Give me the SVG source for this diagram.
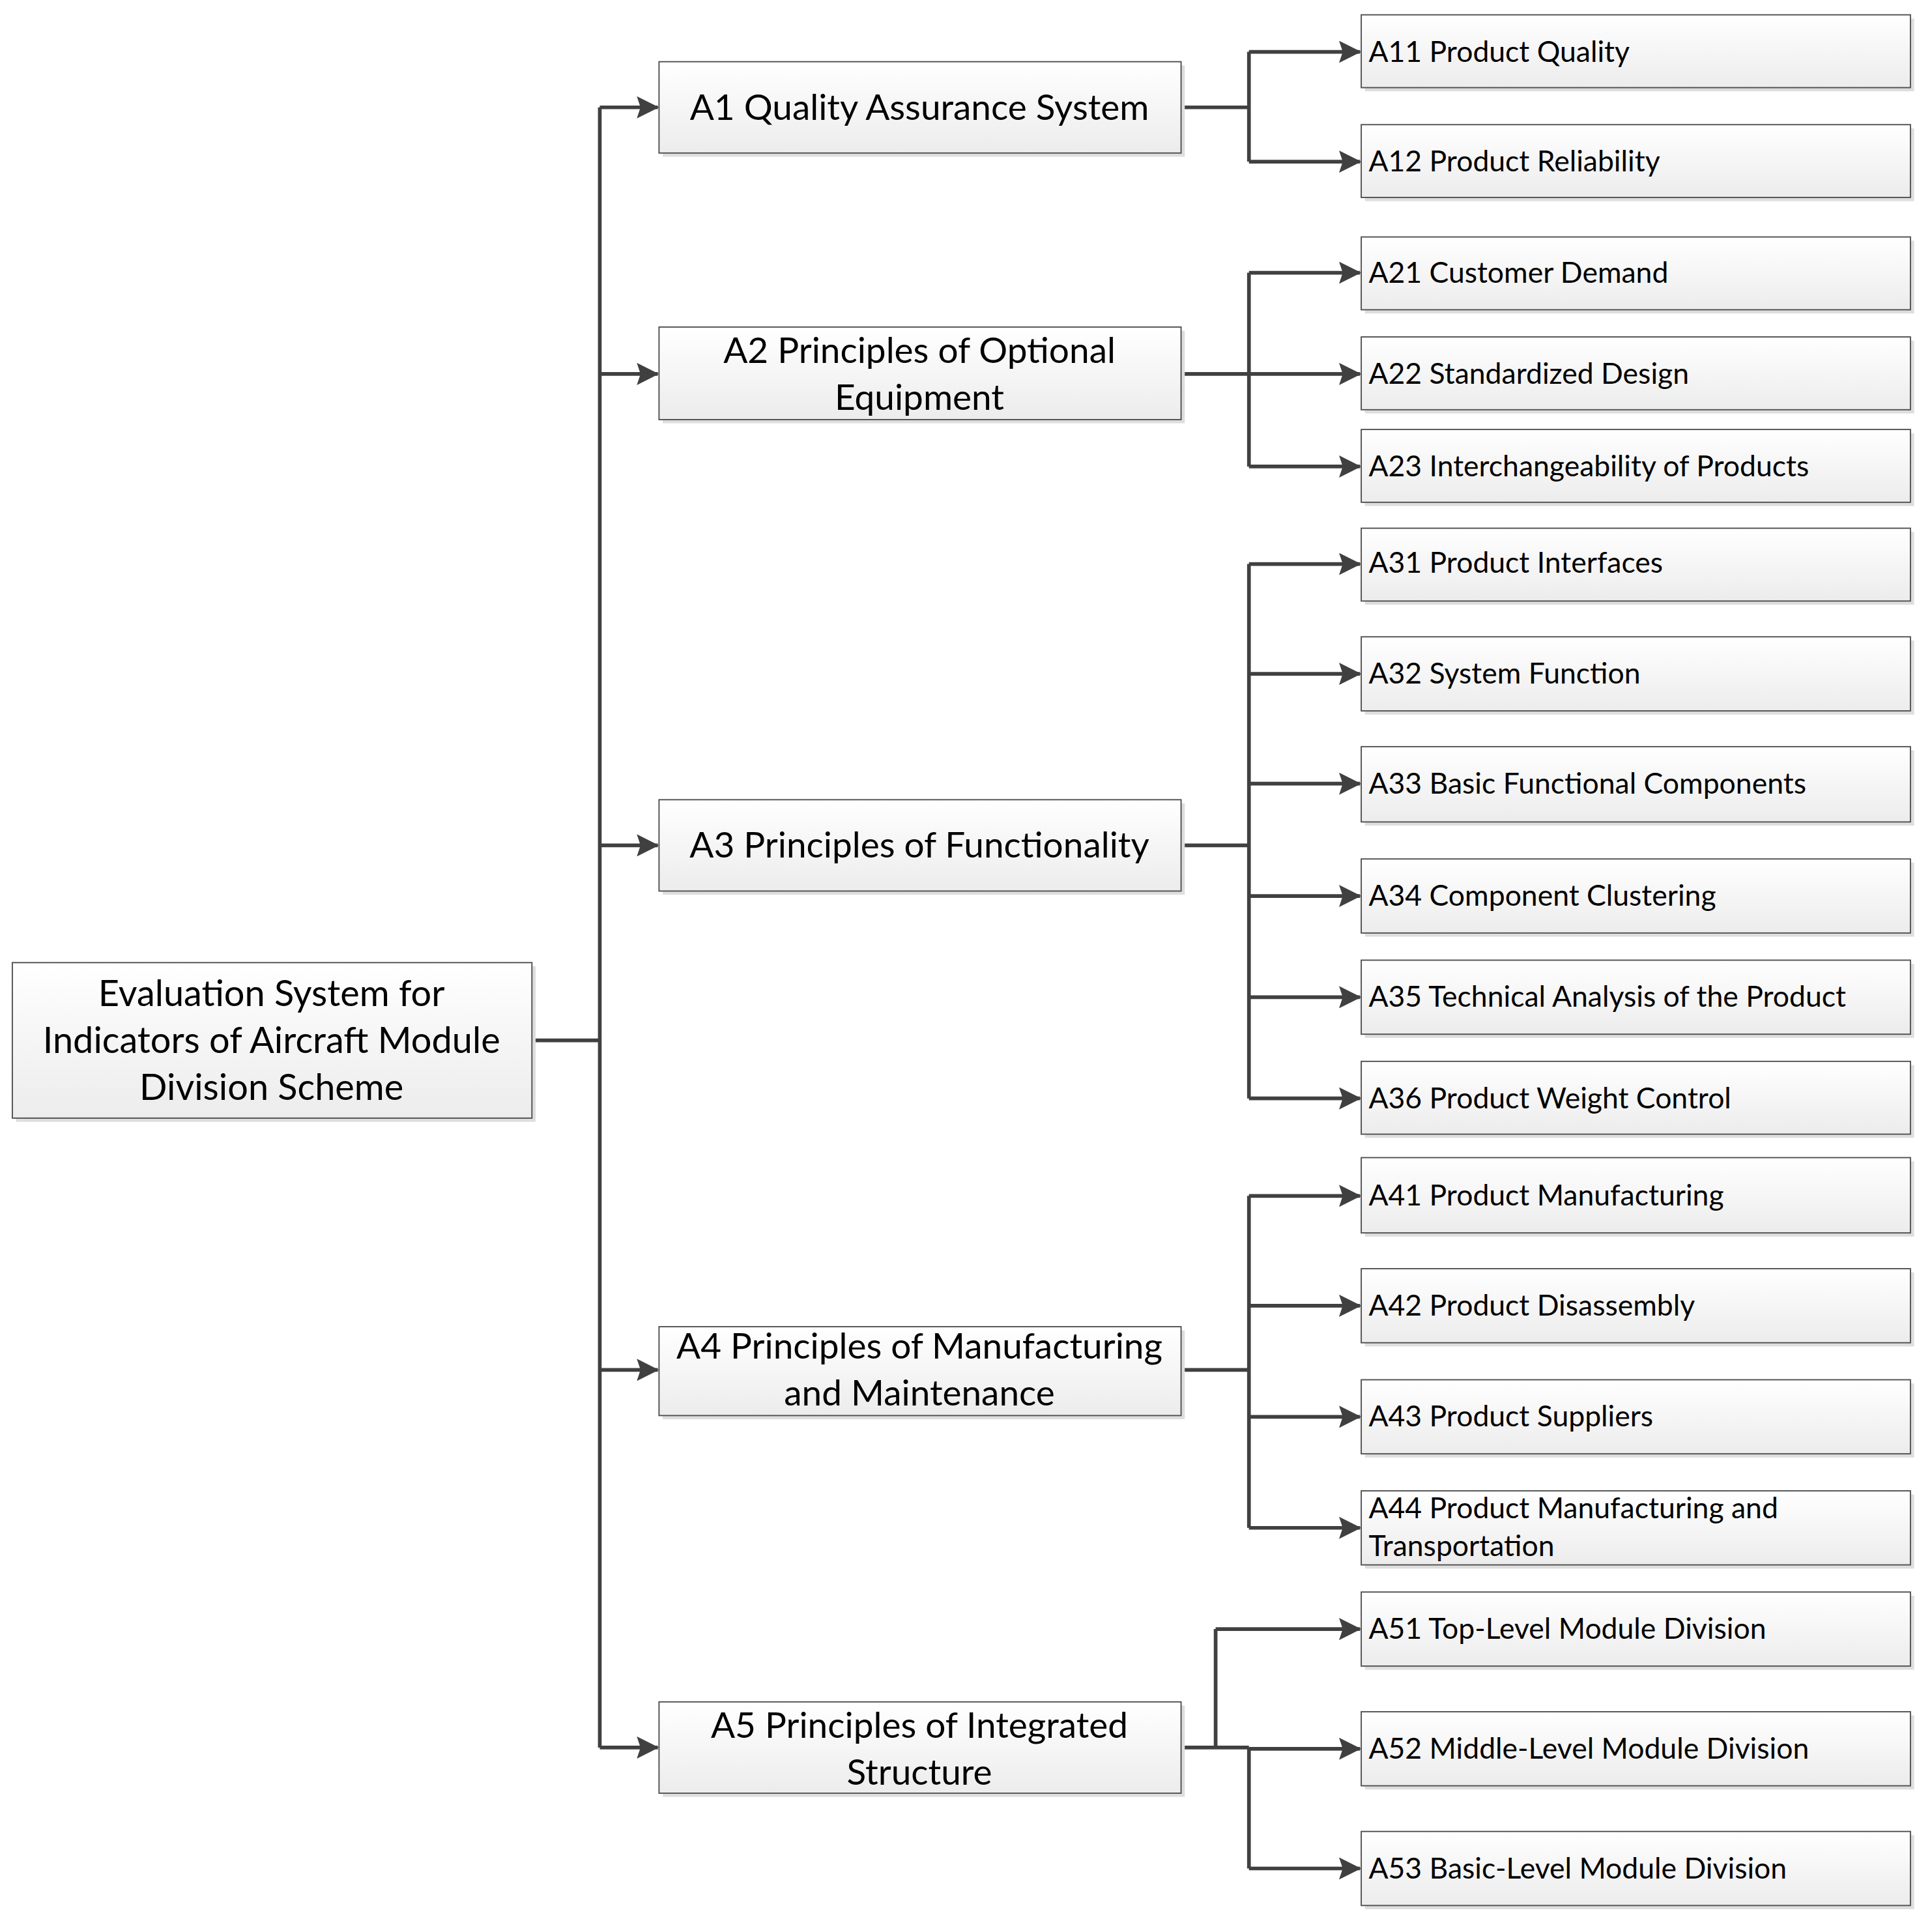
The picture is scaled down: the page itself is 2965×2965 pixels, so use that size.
<svg xmlns="http://www.w3.org/2000/svg" width="2965" height="2965" viewBox="0 0 2965 2965">
<defs>
<linearGradient id="g" x1="0" y1="0" x2="0" y2="1"><stop offset="0" stop-color="#ffffff"/><stop offset="1" stop-color="#ececec"/></linearGradient>
<marker id="ar" markerUnits="userSpaceOnUse" markerWidth="18" markerHeight="18" refX="17" refY="9" orient="auto" viewBox="0 0 18 18"><path d="M0,0 L18,9 L0,18 L3,9 Z" fill="#404040"/></marker>
<style>
.sh{fill:#dedede}
.bx{fill:url(#g);stroke:#505050;stroke-width:1}
.t{font-family:Lato,"Open Sans",sans-serif;fill:#000}
.m{font-size:29px;text-anchor:middle}
.r{font-size:29.5px;text-anchor:middle}
.l{font-size:23.5px}
.c{fill:none;stroke:#404040;stroke-width:3}
</style>
</defs>
<rect width="2965" height="2965" fill="#fff"/>
<g transform="scale(1.894)">
<g id="connectors">
<path class="c" d="M431,843 H486 M486,87 V1416"/>
<path class="c" marker-end="url(#ar)" d="M486,87 H533"/>
<path class="c" marker-end="url(#ar)" d="M486,303 H533"/>
<path class="c" marker-end="url(#ar)" d="M486,685 H533"/>
<path class="c" marker-end="url(#ar)" d="M486,1110 H533"/>
<path class="c" marker-end="url(#ar)" d="M486,1416 H533"/>
<path class="c" d="M957,87 H1012 M1012,42 V131"/>
<path class="c" marker-end="url(#ar)" d="M1012,42 H1102"/>
<path class="c" marker-end="url(#ar)" d="M1012,131 H1102"/>
<path class="c" d="M957,303 H1012 M1012,221 V378"/>
<path class="c" marker-end="url(#ar)" d="M1012,221 H1102"/>
<path class="c" marker-end="url(#ar)" d="M1012,303 H1102"/>
<path class="c" marker-end="url(#ar)" d="M1012,378 H1102"/>
<path class="c" d="M957,685 H1012 M1012,457 V890"/>
<path class="c" marker-end="url(#ar)" d="M1012,457 H1102"/>
<path class="c" marker-end="url(#ar)" d="M1012,546 H1102"/>
<path class="c" marker-end="url(#ar)" d="M1012,635 H1102"/>
<path class="c" marker-end="url(#ar)" d="M1012,726 H1102"/>
<path class="c" marker-end="url(#ar)" d="M1012,808 H1102"/>
<path class="c" marker-end="url(#ar)" d="M1012,890 H1102"/>
<path class="c" d="M957,1110 H1012 M1012,969 V1238"/>
<path class="c" marker-end="url(#ar)" d="M1012,969 H1102"/>
<path class="c" marker-end="url(#ar)" d="M1012,1058 H1102"/>
<path class="c" marker-end="url(#ar)" d="M1012,1148 H1102"/>
<path class="c" marker-end="url(#ar)" d="M1012,1238 H1102"/>
<path class="c" d="M957,1416 H1012 M985,1416 V1320 M1012,1416 V1514"/>
<path class="c" marker-end="url(#ar)" d="M985,1320 H1102"/>
<path class="c" marker-end="url(#ar)" d="M1012,1417 H1102"/>
<path class="c" marker-end="url(#ar)" d="M1012,1514 H1102"/>
</g>
<g id="root"><rect class="sh" x="13" y="783" width="421" height="126"/><rect class="bx" x="10" y="780" width="421" height="126"/>
<text class="t r" x="220" y="815">Evaluation System for</text><text class="t r" x="220" y="853">Indicators of Aircraft Module</text><text class="t r" x="220" y="891">Division Scheme</text></g>
<g id="A1"><rect class="sh" x="537" y="53" width="423" height="74"/><rect class="bx" x="534" y="50" width="423" height="74"/><text class="t m" x="745" y="97">A1 Quality Assurance System</text></g>
<g id="A2"><rect class="sh" x="537" y="268" width="423" height="75"/><rect class="bx" x="534" y="265" width="423" height="75"/><text class="t m" x="745" y="294">A2 Principles of Optional</text><text class="t m" x="745" y="332">Equipment</text></g>
<g id="A3"><rect class="sh" x="537" y="651" width="423" height="74"/><rect class="bx" x="534" y="648" width="423" height="74"/><text class="t m" x="745" y="695">A3 Principles of Functionality</text></g>
<g id="A4"><rect class="sh" x="537" y="1078" width="423" height="72"/><rect class="bx" x="534" y="1075" width="423" height="72"/><text class="t m" x="745" y="1101">A4 Principles of Manufacturing</text><text class="t m" x="745" y="1139">and Maintenance</text></g>
<g id="A5"><rect class="sh" x="537" y="1382" width="423" height="74"/><rect class="bx" x="534" y="1379" width="423" height="74"/><text class="t m" x="745" y="1408">A5 Principles of Integrated</text><text class="t m" x="745" y="1446">Structure</text></g>
<g id="A11"><rect class="sh" x="1106" y="15" width="445" height="59"/><rect class="bx" x="1103" y="12" width="445" height="59"/><text class="t l" x="1109" y="50">A11 Product Quality</text></g>
<g id="A12"><rect class="sh" x="1106" y="104" width="445" height="59"/><rect class="bx" x="1103" y="101" width="445" height="59"/><text class="t l" x="1109" y="139">A12 Product Reliability</text></g>
<g id="A21"><rect class="sh" x="1106" y="195" width="445" height="59"/><rect class="bx" x="1103" y="192" width="445" height="59"/><text class="t l" x="1109" y="229">A21 Customer Demand</text></g>
<g id="A22"><rect class="sh" x="1106" y="276" width="445" height="59"/><rect class="bx" x="1103" y="273" width="445" height="59"/><text class="t l" x="1109" y="311">A22 Standardized Design</text></g>
<g id="A23"><rect class="sh" x="1106" y="351" width="445" height="59"/><rect class="bx" x="1103" y="348" width="445" height="59"/><text class="t l" x="1109" y="386">A23 Interchangeability of Products</text></g>
<g id="A31"><rect class="sh" x="1106" y="431" width="445" height="59"/><rect class="bx" x="1103" y="428" width="445" height="59"/><text class="t l" x="1109" y="464">A31 Product Interfaces</text></g>
<g id="A32"><rect class="sh" x="1106" y="519" width="445" height="60"/><rect class="bx" x="1103" y="516" width="445" height="60"/><text class="t l" x="1109" y="554">A32 System Function</text></g>
<g id="A33"><rect class="sh" x="1106" y="608" width="445" height="61"/><rect class="bx" x="1103" y="605" width="445" height="61"/><text class="t l" x="1109" y="643">A33 Basic Functional Components</text></g>
<g id="A34"><rect class="sh" x="1106" y="699" width="445" height="60"/><rect class="bx" x="1103" y="696" width="445" height="60"/><text class="t l" x="1109" y="734">A34 Component Clustering</text></g>
<g id="A35"><rect class="sh" x="1106" y="781" width="445" height="60"/><rect class="bx" x="1103" y="778" width="445" height="60"/><text class="t l" x="1109" y="816">A35 Technical Analysis of the Product</text></g>
<g id="A36"><rect class="sh" x="1106" y="863" width="445" height="59"/><rect class="bx" x="1103" y="860" width="445" height="59"/><text class="t l" x="1109" y="898">A36 Product Weight Control</text></g>
<g id="A41"><rect class="sh" x="1106" y="941" width="445" height="61"/><rect class="bx" x="1103" y="938" width="445" height="61"/><text class="t l" x="1109" y="977">A41 Product Manufacturing</text></g>
<g id="A42"><rect class="sh" x="1106" y="1031" width="445" height="60"/><rect class="bx" x="1103" y="1028" width="445" height="60"/><text class="t l" x="1109" y="1066">A42 Product Disassembly</text></g>
<g id="A43"><rect class="sh" x="1106" y="1121" width="445" height="60"/><rect class="bx" x="1103" y="1118" width="445" height="60"/><text class="t l" x="1109" y="1156">A43 Product Suppliers</text></g>
<g id="A44"><rect class="sh" x="1106" y="1211" width="445" height="60"/><rect class="bx" x="1103" y="1208" width="445" height="60"/><text class="t l" x="1109" y="1230">A44 Product Manufacturing and</text><text class="t l" x="1109" y="1261">Transportation</text></g>
<g id="A51"><rect class="sh" x="1106" y="1293" width="445" height="60"/><rect class="bx" x="1103" y="1290" width="445" height="60"/><text class="t l" x="1109" y="1328">A51 Top-Level Module Division</text></g>
<g id="A52"><rect class="sh" x="1106" y="1390" width="445" height="60"/><rect class="bx" x="1103" y="1387" width="445" height="60"/><text class="t l" x="1109" y="1425">A52 Middle-Level Module Division</text></g>
<g id="A53"><rect class="sh" x="1106" y="1487" width="445" height="60"/><rect class="bx" x="1103" y="1484" width="445" height="60"/><text class="t l" x="1109" y="1522">A53 Basic-Level Module Division</text></g>
</g>
</svg>
